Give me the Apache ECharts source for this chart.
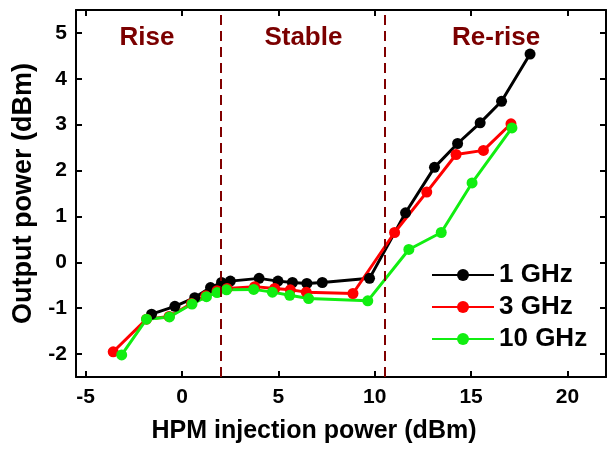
<!DOCTYPE html>
<html>
<head>
<meta charset="utf-8">
<script src="https://cdn.jsdelivr.net/npm/echarts@6/dist/echarts.min.js"></script>
<style>
html, body { margin: 0; padding: 0; background: #fff; }
#show { width: 613px; height: 449px; }
</style>
</head>
<body>
<div id="show"></div>
<script>
// 1 GHz
var x1 = [-1.58, -0.37, 0.66, 1.48, 2.05, 2.51, 4.0, 4.98, 5.73, 6.48, 7.28, 9.73, 11.6, 13.1, 14.3, 15.47, 16.58, 18.06];
var y1 = [-1.13, -0.96, -0.77, -0.55, -0.44, -0.41, -0.35, -0.41, -0.44, -0.46, -0.44, -0.35, 1.08, 2.07, 2.59, 3.04, 3.51, 4.54];
// 3 GHz
var x3 = [-3.57, -1.84, -0.67, 0.49, 1.23, 1.82, 2.34, 3.77, 4.81, 5.62, 6.45, 8.87, 11.03, 12.7, 14.22, 15.64, 17.07];
var y3 = [-1.95, -1.24, -1.18, -0.9, -0.73, -0.62, -0.57, -0.53, -0.57, -0.6, -0.65, -0.68, 0.65, 1.53, 2.35, 2.44, 3.02];
// 10 GHz
var x10 = [-3.13, -1.84, -0.65, 0.52, 1.27, 1.82, 2.31, 3.72, 4.69, 5.59, 6.57, 9.64, 11.77, 13.45, 15.05, 17.12];
var y10 = [-2.02, -1.24, -1.19, -0.91, -0.75, -0.66, -0.6, -0.59, -0.65, -0.72, -0.79, -0.84, 0.28, 0.65, 1.73, 2.93];

var xTicks = [-5, 0, 5, 10, 15, 20];
var yTicks = [-2, -1, 0, 1, 2, 3, 4, 5];

// 区域分界线和标注
var dividers = [2.0, 10.5];
var regionNames = ['Rise', 'Stable', 'Re-rise'];
var regionX = [-1.82, 6.3, 16.3];
var regionY = [4.9, 4.9, 4.9];

var font = 'Liberation Sans, Arial, sans-serif';
var maroon = '#800000';

function pairs(xs, ys) {
	var out = [];
	for (var i = 0; i < xs.length; i++) {
		out.push([xs[i], ys[i]]);
	}
	return out;
}

var regionData = [];
for (var i = 0; i < regionNames.length; i++) {
	regionData.push({ value: [regionX[i], regionY[i]], name: regionNames[i] });
}

var myEchart = echarts.init(document.getElementById('show'));

var axisCommon = {
	axisLine: { onZero: false, lineStyle: { color: '#000', width: 2 } },
	splitLine: { show: false }
};

function lineSeries(name, color, data) {
	return {
		name: name,
		type: 'line',
		data: data,
		symbol: 'circle',
		symbolSize: 11,
		showAllSymbol: true,
		animation: false,
		itemStyle: { color: color },
		lineStyle: { color: color, width: 3 }
	};
}

var s1 = lineSeries('1 GHz', '#000000', pairs(x1, y1));
s1.markLine = {
	silent: true,
	symbol: 'none',
	label: { show: false },
	lineStyle: { color: maroon, width: 2, type: [10, 6] },
	data: dividers.map(function (v) { return { xAxis: v }; })
};

var option = {
	animation: false,
	grid: { left: 76, right: 7, top: 10, bottom: 72, containLabel: false },
	legend: {
		left: 426,
		top: 257,
		orient: 'vertical',
		itemWidth: 62,
		itemHeight: 15,
		itemGap: 6,
		data: ['1 GHz', '3 GHz', '10 GHz'],
		textStyle: { fontFamily: font, fontWeight: 'bold', fontSize: 26, color: '#000' }
	},
	xAxis: [
		Object.assign({
			type: 'value',
			min: -5.5,
			max: 22,
			name: 'HPM injection power (dBm)',
			nameLocation: 'middle',
			nameGap: 42,
			nameTextStyle: { fontFamily: font, fontWeight: 'bold', fontSize: 25, color: '#000', padding: [0, 54, 0, 0] },
			axisTick: { inside: true, length: 6, customValues: xTicks, lineStyle: { width: 2, color: '#000' } },
			axisLabel: { customValues: xTicks, margin: 10, fontFamily: font, fontWeight: 'bold', fontSize: 21, color: '#000' }
		}, axisCommon),
		Object.assign({
			type: 'value',
			position: 'top',
			min: -5.5,
			max: 22,
			axisTick: { inside: true, length: 6, customValues: xTicks, lineStyle: { width: 2, color: '#000' } },
			axisLabel: { show: false }
		}, axisCommon)
	],
	yAxis: [
		Object.assign({
			type: 'value',
			min: -2.5,
			max: 5.5,
			name: 'Output power (dBm)',
			nameLocation: 'middle',
			nameGap: 32,
			nameTextStyle: { fontFamily: font, fontWeight: 'bold', fontSize: 27, color: '#000' },
			axisTick: { inside: true, length: 6, customValues: yTicks, lineStyle: { width: 2, color: '#000' } },
			axisLabel: { customValues: yTicks, margin: 9, fontFamily: font, fontWeight: 'bold', fontSize: 21, color: '#000' }
		}, axisCommon),
		Object.assign({
			type: 'value',
			position: 'right',
			min: -2.5,
			max: 5.5,
			axisTick: { inside: true, length: 6, customValues: yTicks, lineStyle: { width: 2, color: '#000' } },
			axisLabel: { show: false }
		}, axisCommon)
	],
	series: [
		s1,
		lineSeries('3 GHz', '#ff0000', pairs(x3, y3)),
		lineSeries('10 GHz', '#11ee11', pairs(x10, y10)),
		{
			name: 'regions',
			type: 'scatter',
			symbolSize: 0,
			silent: true,
			itemStyle: { opacity: 1 },
			data: regionData,
			label: {
				show: true,
				position: 'inside',
				formatter: '{b}',
				fontFamily: font,
				fontWeight: 'bold',
				fontSize: 26,
				color: '#7b0000',
				opacity: 1
			}
		}
	]
};

myEchart.setOption(option);
</script>
</body>
</html>
